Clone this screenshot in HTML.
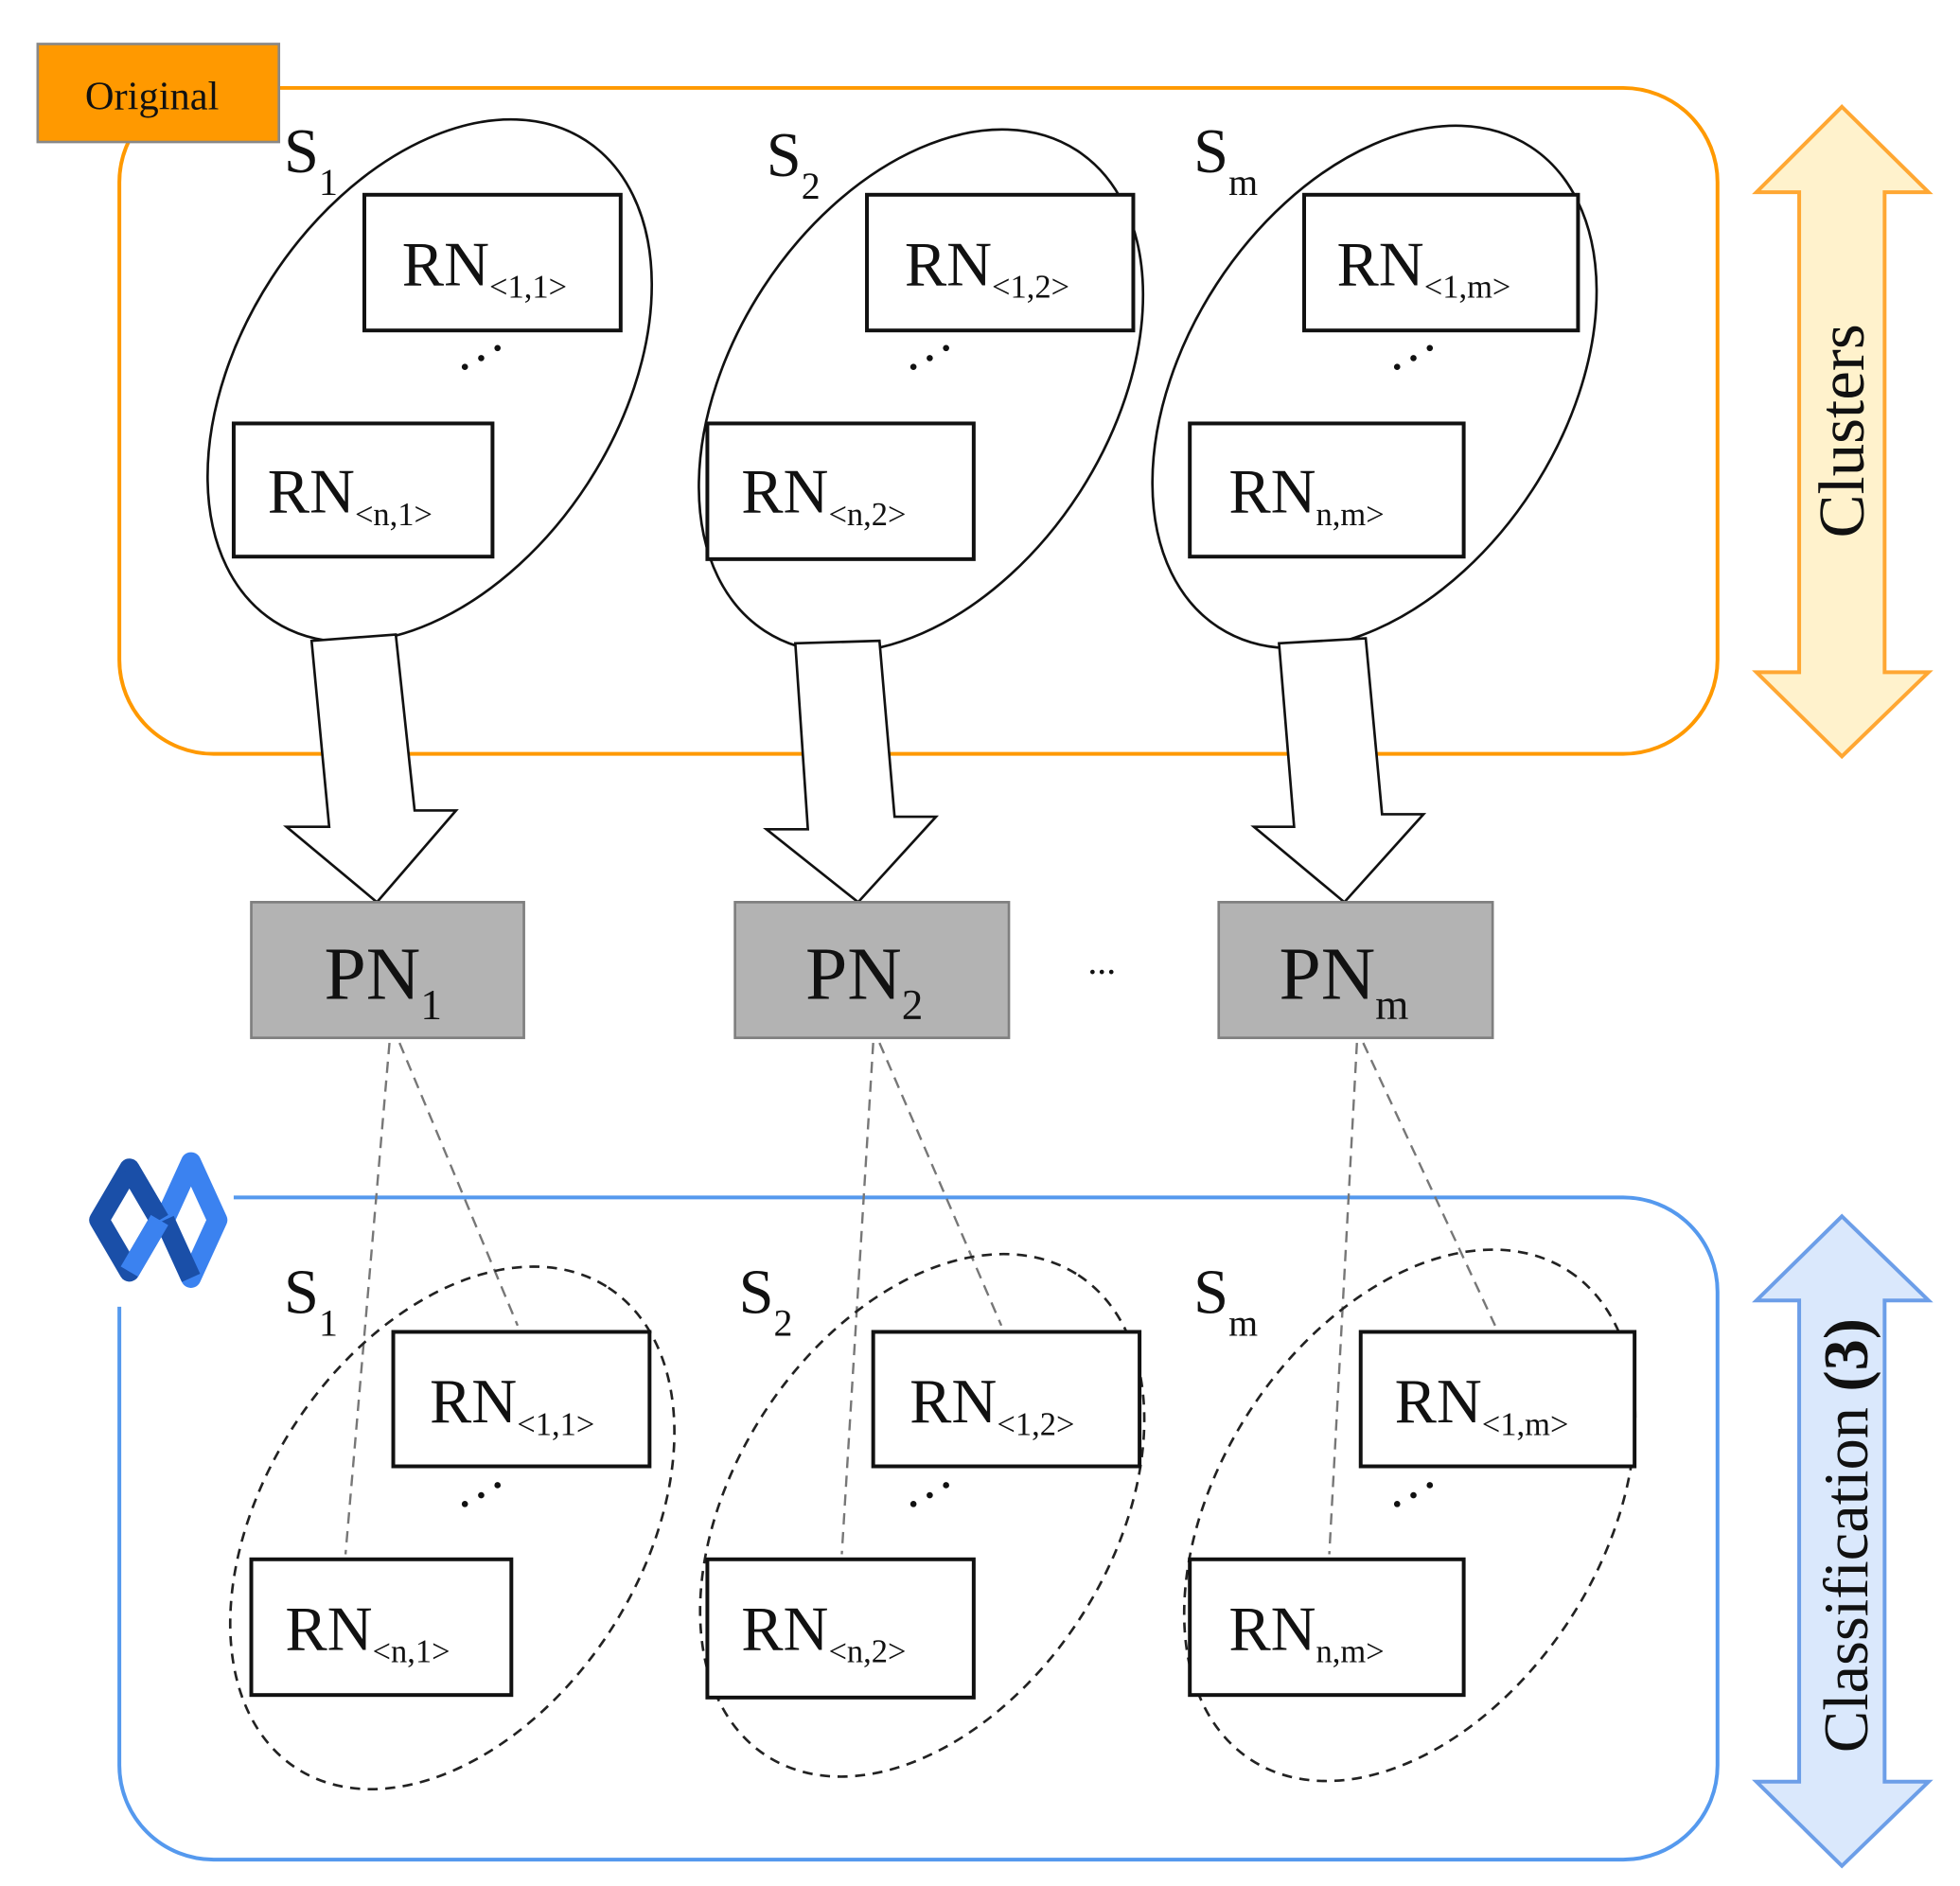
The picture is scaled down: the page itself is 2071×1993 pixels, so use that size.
<!DOCTYPE html>
<html><head><meta charset="utf-8"><style>html,body{margin:0;padding:0;background:#fff}svg{display:block}</style></head>
<body>
<svg width="2071" height="1993" viewBox="0 0 1560 1501" preserveAspectRatio="none" xmlns="http://www.w3.org/2000/svg" font-family="Liberation Serif, serif">
<rect x="95" y="70" width="1272" height="530" rx="75" fill="none" stroke="#ff9900" stroke-width="3"/>
<rect x="30" y="35" width="192" height="78" fill="#ff9900" stroke="#888" stroke-width="2"/>
<text x="121" y="87" font-size="32" text-anchor="middle" fill="#111">Original</text>

<g fill="none" stroke="#111" stroke-width="2">
<ellipse cx="342" cy="303" rx="228" ry="150" transform="rotate(-57 342 303)"/>
<ellipse cx="733" cy="311" rx="228" ry="150" transform="rotate(-57 733 311)"/>
<ellipse cx="1094" cy="308" rx="228" ry="150" transform="rotate(-57 1094 308)"/>
</g>
<g fill="#fff" stroke="#111" stroke-width="3">
<rect x="290" y="155" width="204" height="108"/>
<rect x="186" y="337" width="206" height="106"/>
<rect x="690" y="155" width="212" height="108"/>
<rect x="563" y="337" width="212" height="108"/>
<rect x="1038" y="155" width="218" height="108"/>
<rect x="947" y="337" width="218" height="106"/>
</g>
<g font-size="50" fill="#111">
<text x="320" y="227">RN<tspan font-size="26" dy="10">&lt;1,1&gt;</tspan></text>
<text x="213" y="408">RN<tspan font-size="26" dy="10">&lt;n,1&gt;</tspan></text>
<text x="720" y="227">RN<tspan font-size="26" dy="10">&lt;1,2&gt;</tspan></text>
<text x="590" y="408">RN<tspan font-size="26" dy="10">&lt;n,2&gt;</tspan></text>
<text x="1064" y="227">RN<tspan font-size="26" dy="10">&lt;1,m&gt;</tspan></text>
<text x="978" y="408">RN<tspan font-size="26" dy="10">n,m&gt;</tspan></text>
<text x="226" y="137">S<tspan font-size="30" dy="18">1</tspan></text>
<text x="610" y="140">S<tspan font-size="30" dy="18">2</tspan></text>
<text x="950" y="137">S<tspan font-size="30" dy="18">m</tspan></text>
<text x="226" y="1045">S<tspan font-size="30" dy="18">1</tspan></text>
<text x="588" y="1045">S<tspan font-size="30" dy="18">2</tspan></text>
<text x="950" y="1045">S<tspan font-size="30" dy="18">m</tspan></text>
</g>
<g fill="#111">
<circle cx="370" cy="292" r="2.5"/><circle cx="383" cy="285" r="2.5"/><circle cx="396" cy="277" r="2.5"/>
<circle cx="727" cy="292" r="2.5"/><circle cx="740" cy="285" r="2.5"/><circle cx="753" cy="277" r="2.5"/>
<circle cx="1112" cy="292" r="2.5"/><circle cx="1125" cy="285" r="2.5"/><circle cx="1138" cy="277" r="2.5"/>
<circle cx="370" cy="1197" r="2.5"/><circle cx="383" cy="1190" r="2.5"/><circle cx="396" cy="1182" r="2.5"/>
<circle cx="727" cy="1197" r="2.5"/><circle cx="740" cy="1190" r="2.5"/><circle cx="753" cy="1182" r="2.5"/>
<circle cx="1112" cy="1197" r="2.5"/><circle cx="1125" cy="1190" r="2.5"/><circle cx="1138" cy="1182" r="2.5"/>
</g>

<g fill="#fff" stroke="#111" stroke-width="2">
<path d="M248 510 L315 505 L330 645 L363 645 L300 718 L228 658 L262 658 Z"/>
<path d="M633 512 L700 510 L712 650 L745 650 L683 718 L610 660 L643 660 Z"/>
<path d="M1018 512 L1087 508 L1100 648 L1133 648 L1070 718 L998 658 L1030 658 Z"/>
</g>

<g fill="#b3b3b3" stroke="#7f7f7f" stroke-width="2">
<rect x="200" y="718" width="217" height="108"/>
<rect x="585" y="718" width="218" height="108"/>
<rect x="970" y="718" width="218" height="108"/>
</g>
<g font-size="60" fill="#111">
<text x="258" y="795">PN<tspan font-size="34" dy="16">1</tspan></text>
<text x="641" y="795">PN<tspan font-size="34" dy="16">2</tspan></text>
<text x="1018" y="795">PN<tspan font-size="34" dy="16">m</tspan></text>
</g>
<text x="877" y="775" font-size="30" text-anchor="middle" fill="#111">...</text>

<path d="M186 953 L1292 953 A75 75 0 0 1 1367 1028 L1367 1405 A75 75 0 0 1 1292 1480 L170 1480 A75 75 0 0 1 95 1405 L95 1040" fill="none" stroke="#5599ee" stroke-width="3"/>
<g fill="none" stroke-width="16" stroke-linejoin="round">
<path d="M103 930 L127 971 L103 1012 L79 971 Z" stroke="#1a4fa8"/>
<path d="M152 925 L173 971 L152 1017 L131 971 Z" stroke="#3b82f0"/>
<path d="M103 930 L127 971" stroke="#1a4fa8"/>
<path d="M131 971 L152 1017" stroke="#1a4fa8"/>
<path d="M127 971 L103 1012" stroke="#3b82f0"/>
</g>

<g stroke="#777" stroke-width="1.8" stroke-dasharray="9,6" fill="none">
<line x1="310" y1="830" x2="275" y2="1237"/><line x1="318" y1="830" x2="412" y2="1055"/>
<line x1="695" y1="830" x2="670" y2="1237"/><line x1="700" y1="830" x2="797" y2="1055"/>
<line x1="1080" y1="830" x2="1058" y2="1237"/><line x1="1085" y1="830" x2="1190" y2="1055"/>
</g>
<g fill="none" stroke="#222" stroke-width="2" stroke-dasharray="8,6">
<ellipse cx="360" cy="1216" rx="228" ry="150" transform="rotate(-57 360 1216)"/>
<ellipse cx="734" cy="1206" rx="228" ry="150" transform="rotate(-57 734 1206)"/>
<ellipse cx="1122" cy="1206" rx="232" ry="152" transform="rotate(-57 1122 1206)"/>
</g>
<g fill="#fff" stroke="#111" stroke-width="3">
<rect x="313" y="1060" width="204" height="107"/>
<rect x="200" y="1241" width="207" height="108"/>
<rect x="695" y="1060" width="212" height="107"/>
<rect x="563" y="1241" width="212" height="110"/>
<rect x="1083" y="1060" width="218" height="107"/>
<rect x="947" y="1241" width="218" height="108"/>
</g>
<g font-size="50" fill="#111">
<text x="342" y="1132">RN<tspan font-size="26" dy="10">&lt;1,1&gt;</tspan></text>
<text x="227" y="1313">RN<tspan font-size="26" dy="10">&lt;n,1&gt;</tspan></text>
<text x="724" y="1132">RN<tspan font-size="26" dy="10">&lt;1,2&gt;</tspan></text>
<text x="590" y="1313">RN<tspan font-size="26" dy="10">&lt;n,2&gt;</tspan></text>
<text x="1110" y="1132">RN<tspan font-size="26" dy="10">&lt;1,m&gt;</tspan></text>
<text x="978" y="1313">RN<tspan font-size="26" dy="10">n,m&gt;</tspan></text>
</g>

<path d="M1466 85 L1535 153 L1500 153 L1500 535 L1535 535 L1466 602 L1398 535 L1432 535 L1432 153 L1398 153 Z" fill="#fff2cc" stroke="#ffa733" stroke-width="3"/>
<text transform="translate(1483 343) rotate(-90)" font-size="52" text-anchor="middle" fill="#111">Clusters</text>
<path d="M1466 968 L1535 1035 L1500 1035 L1500 1418 L1535 1418 L1466 1485 L1398 1418 L1432 1418 L1432 1035 L1398 1035 Z" fill="#dae8fc" stroke="#6c9ee8" stroke-width="3"/>
<text transform="translate(1486 1222) rotate(-90)" font-size="50" text-anchor="middle" fill="#111">Classification <tspan font-weight="bold">(3)</tspan></text>
</svg>
</body></html>
